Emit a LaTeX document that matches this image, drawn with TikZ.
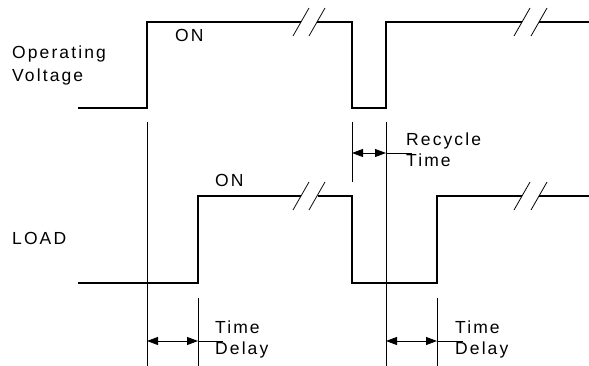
\documentclass[tikz,border=0pt]{standalone}
\usepackage{fontspec}
\setmainfont{Liberation Sans}[LetterSpace=12]
\usetikzlibrary{arrows.meta}
\tikzset{%
  wave/.style={line width=1.6pt,line join=miter},
  guide/.style={line width=0.8pt},
  span/.style={line width=0.8pt,{Triangle[length=11pt,width=8pt]}-{Triangle[length=11pt,width=8pt]}},
  lbl/.style={font=\fontsize{17.5}{22}\selectfont,inner sep=0pt,align=left},
  slash/.style={line width=0.8pt}
}

\begin{document}
\begin{tikzpicture}[x=1pt,y=-1pt]

    % Fix the page to the size of the reference
    \useasboundingbox (0,0) rectangle (589,366);

    % Operating voltage (upper trace)
    \draw[wave] (78,108) -- (147,108) -- (147,22) -- (301,22);
    \draw[wave] (317,22) -- (352,22) -- (352,108) -- (386,108) -- (386,22) -- (522,22);
    \draw[wave] (539,22) -- (589,22);

    % Load (lower trace)
    \draw[wave] (78,283) -- (198,283) -- (198,196) -- (301,196);
    \draw[wave] (318,196) -- (352,196) -- (352,283) -- (437,283) -- (437,196) -- (522,196);
    \draw[wave] (539,196) -- (589,196);

    % Break marks on both traces
    \foreach \bx in {301,317,522,539}{
      \foreach \by in {22,196}{
        \draw[slash] (\bx-8,\by+14) -- (\bx+8,\by-14);
      }
    }

    % Guide lines
    \coordinate (g1a) at (147,122);
    \coordinate (g1b) at (147,366);
    \coordinate (g2a) at (352,122);
    \coordinate (g2b) at (352,182);
    \coordinate (g3a) at (386,122);
    \coordinate (g3b) at (386,366);
    \coordinate (g4a) at (198,298);
    \coordinate (g4b) at (198,366);
    \coordinate (g5a) at (437,298);
    \coordinate (g5b) at (437,366);
    \foreach \g in {1,...,5}{
      \draw[guide] (g\g a) -- (g\g b);
    }

    % Spans
    \coordinate (r1) at (352,153);
    \coordinate (r2) at (386,153);
    \coordinate (r3) at (412,153);
    \coordinate (d1) at (147,341);
    \coordinate (d2) at (198,341);
    \coordinate (d3) at (223,341);
    \coordinate (e1) at (386,341);
    \coordinate (e2) at (437,341);
    \coordinate (e3) at (463,341);
    \draw[span] (r1) -- (r2);
    \draw[guide] (r2) -- (r3);
    \draw[span] (d1) -- (d2);
    \draw[guide] (d2) -- (d3);
    \draw[span] (e1) -- (e2);
    \draw[guide] (e2) -- (e3);

    % Labels (base is the last line)
    \node[lbl,anchor=base west,font=\fontsize{17.5}{23}\selectfont] (volt) at (12,82) {Operating\\Voltage};
    \node[lbl,anchor=base west] (load) at (12,244) {LOAD};
    \node[lbl,anchor=base west] (on1) at (175,42) {ON};
    \node[lbl,anchor=base west] (on2) at (215,187) {ON};
    \node[lbl,anchor=base west,font=\fontsize{17.5}{21}\selectfont] (recyc) at (406,167) {Recycle\\Time};
    \node[lbl,anchor=base west,font=\fontsize{17.5}{21}\selectfont] (del1) at (215,354) {Time\\Delay};
    \node[lbl,anchor=base west,font=\fontsize{17.5}{21}\selectfont] (del2) at (455,354) {Time\\Delay};

\end{tikzpicture}
\end{document}
